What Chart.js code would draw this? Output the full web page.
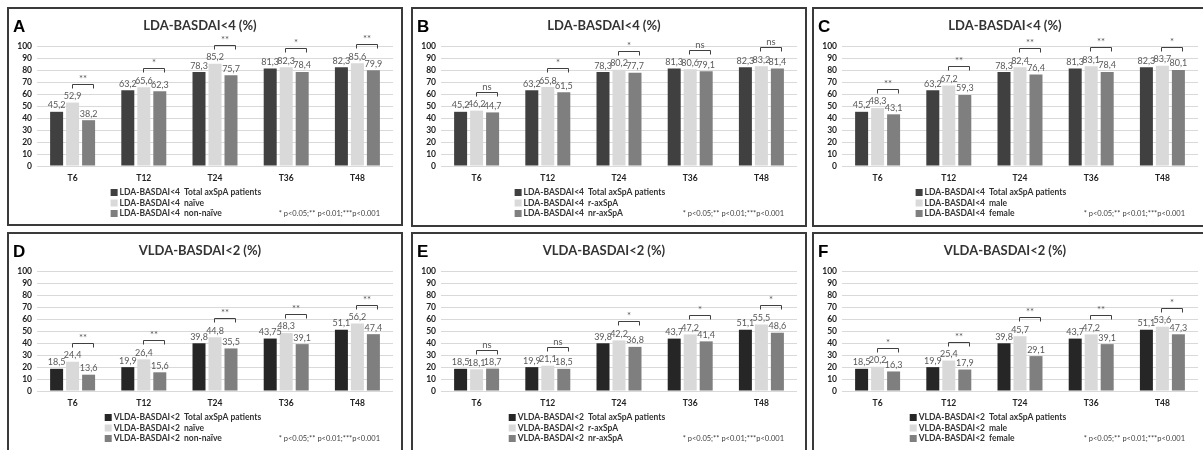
<!DOCTYPE html>
<html>
<head>
<meta charset="utf-8">
<script src="https://cdn.jsdelivr.net/npm/chart.js@4.4.0/dist/chart.umd.min.js"></script>
<style>
  html, body { margin: 0; padding: 0; background: #fff; }
  body { width: 1203px; height: 450px; position: relative; overflow: hidden; }
  .panel { position: absolute; width: 396px; height: 219px; }
  .panel canvas { position: absolute; left: 0; top: 0; }
  .frame { position: absolute; left: 0; top: 0; right: 0; bottom: 0; border: 2px solid #3a3a3a; pointer-events: none; }
  .low .frame { bottom: -6px; }
</style>
</head>
<body>
<div class="panel" style="left:7px;top:7px"><canvas id="chartA" width="396" height="219"></canvas><div class="frame"></div></div>
<div class="panel" style="left:411px;top:7px"><canvas id="chartB" width="396" height="219"></canvas><div class="frame" style="bottom:-1px"></div></div>
<div class="panel" style="left:812px;top:7px"><canvas id="chartC" width="396" height="219"></canvas><div class="frame" style="bottom:-1px"></div></div>
<div class="panel low" style="left:7px;top:232px"><canvas id="chartD" width="396" height="219"></canvas><div class="frame"></div></div>
<div class="panel low" style="left:411px;top:232px"><canvas id="chartE" width="396" height="219"></canvas><div class="frame"></div></div>
<div class="panel low" style="left:812px;top:232px"><canvas id="chartF" width="396" height="219"></canvas><div class="frame"></div></div>
<script>
const categories = ['T6', 'T12', 'T24', 'T36', 'T48'];

// LDA-BASDAI<4 (%)
const ldaTotal = [45.2, 63.2, 78.3, 81.3, 82.3];
const ldaNaive = [52.9, 65.6, 85.2, 82.3, 85.6];
const ldaNonNaive = [38.2, 62.3, 75.7, 78.4, 79.9];
const ldaRax = [46.2, 65.8, 80.2, 80.6, 83.2];
const ldaNrax = [44.7, 61.5, 77.7, 79.1, 81.4];
const ldaMale = [48.3, 67.2, 82.4, 83.1, 83.7];
const ldaFemale = [43.1, 59.3, 76.4, 78.4, 80.1];

// VLDA-BASDAI<2 (%)
const vldaTotalD = [18.5, 19.9, 39.8, 43.75, 51.1];
const vldaTotal = [18.5, 19.9, 39.8, 43.7, 51.1];
const vldaNaive = [24.4, 26.4, 44.8, 48.3, 56.2];
const vldaNonNaive = [13.6, 15.6, 35.5, 39.1, 47.4];
const vldaRax = [18.1, 21.1, 42.2, 47.2, 55.5];
const vldaNrax = [18.7, 18.5, 36.8, 41.4, 48.6];
const vldaMale = [20.2, 25.4, 45.7, 47.2, 53.6];
const vldaFemale = [16.3, 17.9, 29.1, 39.1, 47.3];

// significance between the two subgroups
const sigA = ['**', '*', '**', '*', '**'];
const sigB = ['ns', '*', '*', 'ns', 'ns'];
const sigC = ['**', '**', '**', '**', '*'];
const sigD = ['**', '**', '**', '**', '**'];
const sigE = ['ns', 'ns', '*', '*', '*'];
const sigF = ['*', '**', '**', '**', '*'];

const groupsTreat = ['Total axSpA patients', 'naïve', 'non-naïve'];
const groupsRad = ['Total axSpA patients', 'r-axSpA', 'nr-axSpA'];
const groupsSex = ['Total axSpA patients', 'male', 'female'];

const footnote = '* p<0.05;** p<0.01;***p<0.001';

Chart.defaults.font.family = 'Lato, "Open Sans", sans-serif';

const panelDecor = {
  id: 'panelDecor',
  afterDatasetsDraw(chart, args, opts) {
    const ctx = chart.ctx;
    const metas = [0, 1, 2].map(i => chart.getDatasetMeta(i));
    ctx.save();
    ctx.font = '9px Lato';
    ctx.fillStyle = '#595959';
    ctx.textAlign = 'center';
    ctx.textBaseline = 'bottom';
    metas.forEach((meta, di) => {
      meta.data.forEach((bar, i) => {
        const v = chart.data.datasets[di].data[i];
        ctx.fillText(String(v).replace('.', ','), bar.x, bar.y - 2);
      });
    });

    ctx.strokeStyle = '#404040';
    ctx.lineWidth = 1;
    ctx.textBaseline = 'alphabetic';
    ctx.font = '9.5px Lato';
    opts.sig.forEach((s, i) => {
      const b1 = metas[1].data[i], b2 = metas[2].data[i];
      const x1 = Math.round(b1.x - 1) + 0.5;
      const x2 = Math.round(b2.x + 4) + 0.5;
      const yT = Math.round(Math.min(b1.y, b2.y) - 19) + 0.5;
      ctx.beginPath();
      ctx.moveTo(x1, yT + 4);
      ctx.lineTo(x1, yT);
      ctx.lineTo(x2, yT);
      ctx.lineTo(x2, yT + 4);
      ctx.stroke();
      ctx.fillText(s, (x1 + x2) / 2, yT - 3);
    });
    ctx.restore();
  },
  afterDraw(chart, args, opts) {
    const ctx = chart.ctx;
    const area = chart.chartArea;
    ctx.save();
    // panel letter
    ctx.fillStyle = '#000';
    ctx.font = 'bold 17px "Liberation Sans", Arial, sans-serif';
    ctx.textAlign = 'left';
    ctx.textBaseline = 'alphabetic';
    ctx.fillText(opts.letter, 6, 25);

    // legend, two columns
    ctx.font = 'bold 8.5px Lato';
    ctx.textBaseline = 'middle';
    const col2 = 177;
    const w = ctx.measureText(opts.prefix).width;
    const textX = col2 - 4 - w;
    chart.data.datasets.forEach((ds, k) => {
      const y = area.bottom + 26.5 + k * 10.5;
      ctx.fillStyle = ds.backgroundColor;
      ctx.fillRect(textX - 9, y - 3.5, 7, 7);
      ctx.fillStyle = '#333';
      ctx.fillText(opts.prefix, textX, y);
      ctx.fillText(opts.groups[k], col2, y);
    });

    // footnote
    ctx.font = '7.5px Lato';
    ctx.fillStyle = '#404040';
    ctx.textAlign = 'right';
    ctx.fillText(footnote, 373, area.bottom + 48);
    ctx.restore();
  }
};

function makeChart(id, letter, title, prefix, groups, series, sig, dark) {
  const colors = [dark, '#d9d9d9', '#7f7f7f'];
  return new Chart(document.getElementById(id), {
    type: 'bar',
    data: {
      labels: categories,
      datasets: series.map((d, k) => ({
        label: prefix + ' ' + groups[k],
        data: d,
        backgroundColor: colors[k],
        categoryPercentage: 0.674,
        barPercentage: 0.8125
      }))
    },
    options: {
      responsive: false,
      animation: false,
      devicePixelRatio: 1,
      layout: { padding: { top: 10, right: 10, bottom: 40, left: 0 } },
      scales: {
        x: {
          grid: { display: false, drawTicks: false },
          border: { display: false },
          ticks: { color: '#222', font: { size: 8.5, weight: 'bold' }, padding: 7 },
          afterFit: s => { s.height = 20; }
        },
        y: {
          min: 0,
          max: 100,
          ticks: { stepSize: 10, autoSkip: false, color: '#222', font: { size: 8.5, weight: 'bold' }, padding: 5 },
          grid: { color: '#d9d9d9', drawTicks: false },
          border: { display: false },
          afterFit: s => { s.width = 30; }
        }
      },
      plugins: {
        legend: { display: false },
        tooltip: { enabled: false },
        title: {
          display: true,
          text: title,
          color: '#333',
          font: { size: 13, weight: 'bold' },
          padding: { top: 1, bottom: 12.5 }
        },
        panelDecor: { letter: letter, prefix: prefix, groups: groups, sig: sig }
      }
    },
    plugins: [panelDecor]
  });
}

const topDark = '#404040';
const lowDark = '#262626';
makeChart('chartA', 'A', 'LDA-BASDAI<4 (%)', 'LDA-BASDAI<4', groupsTreat, [ldaTotal, ldaNaive, ldaNonNaive], sigA, topDark);
makeChart('chartB', 'B', 'LDA-BASDAI<4 (%)', 'LDA-BASDAI<4', groupsRad, [ldaTotal, ldaRax, ldaNrax], sigB, topDark);
makeChart('chartC', 'C', 'LDA-BASDAI<4 (%)', 'LDA-BASDAI<4', groupsSex, [ldaTotal, ldaMale, ldaFemale], sigC, topDark);
makeChart('chartD', 'D', 'VLDA-BASDAI<2 (%)', 'VLDA-BASDAI<2', groupsTreat, [vldaTotalD, vldaNaive, vldaNonNaive], sigD, lowDark);
makeChart('chartE', 'E', 'VLDA-BASDAI<2 (%)', 'VLDA-BASDAI<2', groupsRad, [vldaTotal, vldaRax, vldaNrax], sigE, lowDark);
makeChart('chartF', 'F', 'VLDA-BASDAI<2 (%)', 'VLDA-BASDAI<2', groupsSex, [vldaTotal, vldaMale, vldaFemale], sigF, lowDark);
</script>
</body>
</html>
